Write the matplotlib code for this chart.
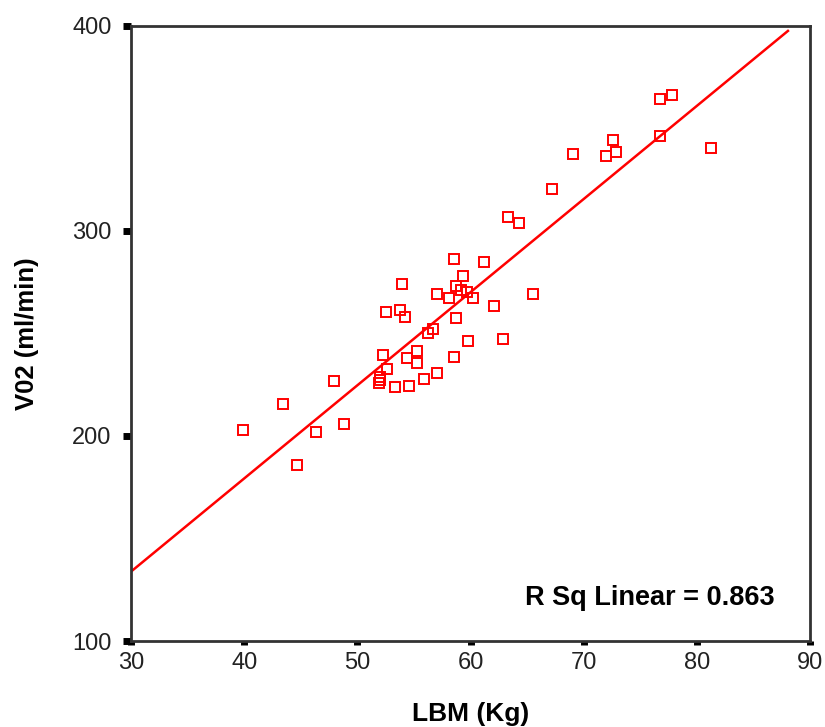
import matplotlib
matplotlib.use("Agg")
import matplotlib.pyplot as plt

plt.rcParams['font.family'] = ['Liberation Sans', 'DejaVu Sans']

# LBM (Kg) values
lbm = [58.54, 61.22, 59.34, 53.97, 58.69, 59.13, 59.66, 57.07, 58.10, 60.19,
       65.55, 52.53, 53.77, 54.21, 62.05, 58.72, 56.71, 56.24, 59.75, 62.87,
       52.29, 55.24, 54.41, 55.24, 58.54, 52.59, 52.00, 51.96, 51.94, 57.07,
       55.86, 54.59, 53.35, 47.96, 43.46, 39.92, 46.32, 48.79, 44.67,
       76.74, 77.78, 76.74, 81.28, 72.59, 72.83, 71.97, 69.08, 67.23, 63.29, 64.31]
# VO2 (ml/min) values
vo2 = [286.2, 285.0, 278.2, 274.1, 273.3, 271.2, 270.4, 269.3, 267.2, 267.2,
       269.3, 260.5, 261.5, 258.2, 263.3, 257.4, 252.3, 250.4, 246.5, 247.5,
       239.5, 241.6, 237.9, 235.5, 238.7, 232.7, 228.9, 227.3, 225.7, 230.6,
       227.7, 224.5, 223.8, 226.7, 215.8, 202.9, 202.0, 205.9, 186.0,
       364.2, 366.3, 346.3, 340.5, 344.4, 338.5, 336.6, 337.6, 320.6, 307.0, 303.8]

# Fit line end points
fit_x = [30.1, 88.05]
fit_y = [134.3, 397.6]

x_ticks = [30, 40, 50, 60, 70, 80, 90]
y_ticks = [100, 200, 300, 400]
r2_label = "R Sq Linear = 0.863"

fig = plt.figure(figsize=(8.25, 7.27), dpi=100)
ax = fig.add_axes([131/825, 1 - 641/727, (810-131)/825, (641-26)/727])

ax.plot(fit_x, fit_y, color='#ff0000', lw=1.8, zorder=2)
ax.plot(lbm, vo2, linestyle='none', marker='s', markersize=7.5,
        markerfacecolor='none', markeredgecolor='#ff0000', markeredgewidth=1.4, zorder=3)

ax.set_xlim(30, 90)
ax.set_ylim(100, 400)
ax.set_xticks(x_ticks)
ax.set_yticks(y_ticks)
ax.tick_params(axis='y', direction='out', length=6, width=5, pad=8, labelsize=17, colors='black')
ax.tick_params(axis='x', direction='out', length=3, width=5, pad=5, labelsize=17, colors='black')
for lbl in ax.get_xticklabels() + ax.get_yticklabels():
    lbl.set_color('#222222')

for s in ax.spines.values():
    s.set_color('#333333')
    s.set_linewidth(2)

ax.set_xlabel("LBM (Kg)", fontsize=19, fontweight='bold', labelpad=20)
ax.set_ylabel("V02 (ml/min)", fontsize=18.5, fontweight='bold', labelpad=24)

ax.text(86.9, 121, r2_label, ha='right', va='center', fontsize=19.5, fontweight='bold')

fig.savefig("out.png", dpi=100)
